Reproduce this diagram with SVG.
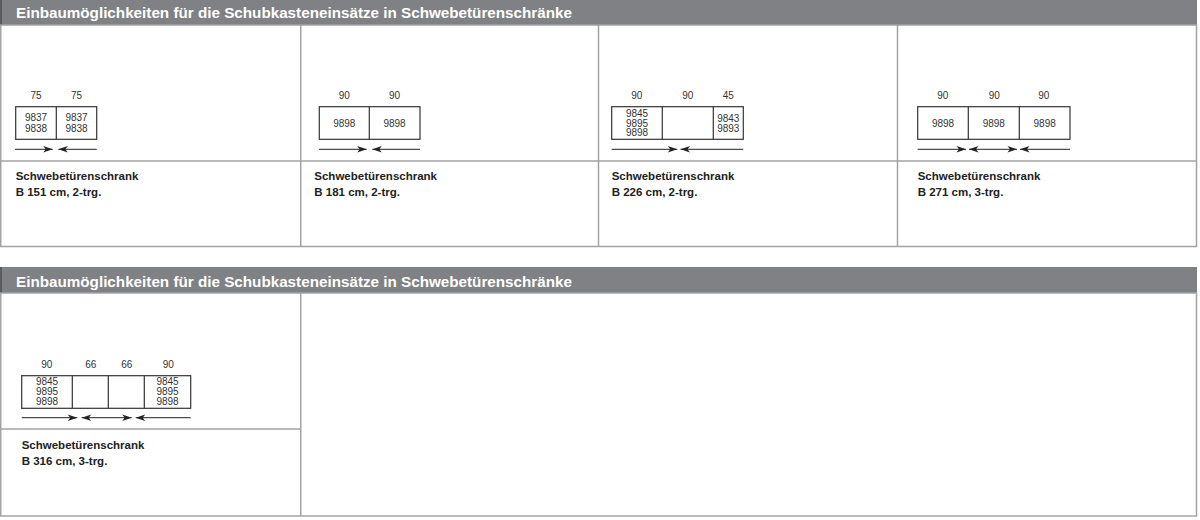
<svg xmlns="http://www.w3.org/2000/svg" width="1200" height="520" viewBox="0 0 1200 520">
<style>
.hdr{fill:#808184}
.hdrt{font-family:"Liberation Sans",Arial,sans-serif;font-weight:bold;font-size:15px;fill:#ffffff}
.frame{fill:#ffffff;stroke:#a3a3a3;stroke-width:1.5}
.div{stroke:#a3a3a3;stroke-width:1.5;fill:none}
.box{fill:none;stroke:#333333;stroke-width:1.2}
.num{font-family:"Liberation Sans",Arial,sans-serif;font-size:10px;fill:#333333;text-anchor:middle}
.lbl{font-family:"Liberation Sans",Arial,sans-serif;font-weight:bold;font-size:11.5px;fill:#222222}
.arr{stroke:#222222;stroke-width:1;fill:none}
</style>
<defs>
<marker id="ah" viewBox="-10 -4 11 8" refX="0" refY="0" markerWidth="11" markerHeight="8" markerUnits="userSpaceOnUse" orient="auto-start-reverse">
<path d="M0,0 L-9.5,-3.2 L-7,0 L-9.5,3.2 Z" fill="#222222"/>
</marker>
</defs>
<rect width="1200" height="520" fill="#ffffff"/>

<!-- headers -->
<g id="header1">
<rect class="hdr" x="0" y="0" width="1197" height="25"/>
<rect x="0" y="0" width="2" height="25" fill="#5a5b5e"/>
<text class="hdrt" x="16" y="17.5" textLength="556" lengthAdjust="spacingAndGlyphs">Einbaumöglichkeiten für die Schubkasteneinsätze in Schwebetürenschränke</text>
</g>
<g id="header2">
<rect class="hdr" x="0" y="267" width="1197" height="26"/>
<rect x="0" y="267" width="2" height="26" fill="#5a5b5e"/>
<text class="hdrt" x="16" y="286.5" textLength="556" lengthAdjust="spacingAndGlyphs">Einbaumöglichkeiten für die Schubkasteneinsätze in Schwebetürenschränke</text>
</g>

<!-- frames -->
<g id="frame1">
<rect class="frame" x="0.75" y="25" width="1195.75" height="221.5"/>
<line class="div" x1="0.75" y1="161" x2="1196.5" y2="161"/>
<line class="div" x1="300.75" y1="25" x2="300.75" y2="246.5"/>
<line class="div" x1="598.5" y1="25" x2="598.5" y2="246.5"/>
<line class="div" x1="897.5" y1="25" x2="897.5" y2="246.5"/>
</g>
<g id="frame2">
<rect class="frame" x="0.75" y="293" width="1195.75" height="223"/>
<line class="div" x1="0.75" y1="429" x2="300.75" y2="429"/>
<line class="div" x1="300.75" y1="293" x2="300.75" y2="516"/>
</g>

<!-- panel 1 -->
<g id="panel-151">
<text class="num" x="36" y="99">75</text>
<text class="num" x="76.5" y="99">75</text>
<rect class="box" x="15.7" y="106.7" width="81" height="32.6"/>
<line class="box" x1="56.3" y1="106.7" x2="56.3" y2="139.3"/>
<text class="num" x="36" y="121">9837</text>
<text class="num" x="36" y="132">9838</text>
<text class="num" x="76.5" y="121">9837</text>
<text class="num" x="76.5" y="132">9838</text>
<text class="lbl" x="15.7" y="180.3">Schwebetürenschrank</text>
<text class="lbl" x="15.7" y="196">B 151 cm, 2-trg.</text>
</g>

<!-- panel 2 -->
<g id="panel-181">
<text class="num" x="344.3" y="99">90</text>
<text class="num" x="394.5" y="99">90</text>
<rect class="box" x="319.3" y="106.7" width="100.7" height="32.6"/>
<line class="box" x1="369.3" y1="106.7" x2="369.3" y2="139.3"/>
<text class="num" x="344.3" y="127">9898</text>
<text class="num" x="394.5" y="127">9898</text>
<text class="lbl" x="314.3" y="180.3">Schwebetürenschrank</text>
<text class="lbl" x="314.3" y="196">B 181 cm, 2-trg.</text>
</g>

<!-- panel 3 -->
<g id="panel-226">
<text class="num" x="636.8" y="99">90</text>
<text class="num" x="687.8" y="99">90</text>
<text class="num" x="728.3" y="99">45</text>
<rect class="box" x="611.7" y="106.7" width="131.6" height="32.6"/>
<line class="box" x1="662.3" y1="106.7" x2="662.3" y2="139.3"/>
<line class="box" x1="713.3" y1="106.7" x2="713.3" y2="139.3"/>
<text class="num" x="637" y="117">9845</text>
<text class="num" x="637" y="126.7">9895</text>
<text class="num" x="637" y="136.3">9898</text>
<text class="num" x="728.3" y="122">9843</text>
<text class="num" x="728.3" y="132">9893</text>
<text class="lbl" x="611.7" y="180.3">Schwebetürenschrank</text>
<text class="lbl" x="611.7" y="196">B 226 cm, 2-trg.</text>
</g>

<!-- panel 4 -->
<g id="panel-271">
<text class="num" x="942.8" y="99">90</text>
<text class="num" x="994.3" y="99">90</text>
<text class="num" x="1043.8" y="99">90</text>
<rect class="box" x="917.7" y="106.7" width="152.3" height="32.6"/>
<line class="box" x1="968.3" y1="106.7" x2="968.3" y2="139.3"/>
<line class="box" x1="1019.3" y1="106.7" x2="1019.3" y2="139.3"/>
<text class="num" x="943" y="127">9898</text>
<text class="num" x="993.8" y="127">9898</text>
<text class="num" x="1044.7" y="127">9898</text>
<text class="lbl" x="917.7" y="180.3">Schwebetürenschrank</text>
<text class="lbl" x="917.7" y="196">B 271 cm, 3-trg.</text>
</g>

<!-- panel 5 -->
<g id="panel-316">
<text class="num" x="46.7" y="368">90</text>
<text class="num" x="90.7" y="367.5">66</text>
<text class="num" x="126.7" y="367.5">66</text>
<text class="num" x="168.3" y="368">90</text>
<rect class="box" x="21.7" y="375.7" width="169" height="32.6"/>
<line class="box" x1="72.3" y1="375.7" x2="72.3" y2="408.3"/>
<line class="box" x1="108.3" y1="375.7" x2="108.3" y2="408.3"/>
<line class="box" x1="144.3" y1="375.7" x2="144.3" y2="408.3"/>
<text class="num" x="47" y="385.3">9845</text>
<text class="num" x="47" y="395.3">9895</text>
<text class="num" x="47" y="405.3">9898</text>
<text class="num" x="167.5" y="385.3">9845</text>
<text class="num" x="167.5" y="395.3">9895</text>
<text class="num" x="167.5" y="405.3">9898</text>
<text class="lbl" x="21.7" y="448.7">Schwebetürenschrank</text>
<text class="lbl" x="21.7" y="464.5">B 316 cm, 3-trg.</text>
</g>

<!-- connectors -->
<g id="connectors">
<line class="arr" x1="15" y1="149.3" x2="52.7" y2="149.3" marker-end="url(#ah)"/>
<line class="arr" x1="96.7" y1="149.3" x2="58.3" y2="149.3" marker-end="url(#ah)"/>

<line class="arr" x1="319" y1="149.3" x2="366.7" y2="149.3" marker-end="url(#ah)"/>
<line class="arr" x1="420" y1="149.3" x2="372.3" y2="149.3" marker-end="url(#ah)"/>

<line class="arr" x1="611.7" y1="149.3" x2="677.3" y2="149.3" marker-end="url(#ah)"/>
<line class="arr" x1="743.3" y1="149.3" x2="680.5" y2="149.3" marker-end="url(#ah)"/>

<line class="arr" x1="917.7" y1="149.3" x2="966" y2="149.3" marker-end="url(#ah)"/>
<line class="arr" x1="969" y1="149.3" x2="1017" y2="149.3" marker-start="url(#ah)" marker-end="url(#ah)"/>
<line class="arr" x1="1070" y1="149.3" x2="1020" y2="149.3" marker-end="url(#ah)"/>

<line class="arr" x1="21.7" y1="417.7" x2="77.3" y2="417.7" marker-end="url(#ah)"/>
<line class="arr" x1="81.7" y1="417.7" x2="131.7" y2="417.7" marker-start="url(#ah)" marker-end="url(#ah)"/>
<line class="arr" x1="190.7" y1="417.7" x2="135.7" y2="417.7" marker-end="url(#ah)"/>
</g>
</svg>
